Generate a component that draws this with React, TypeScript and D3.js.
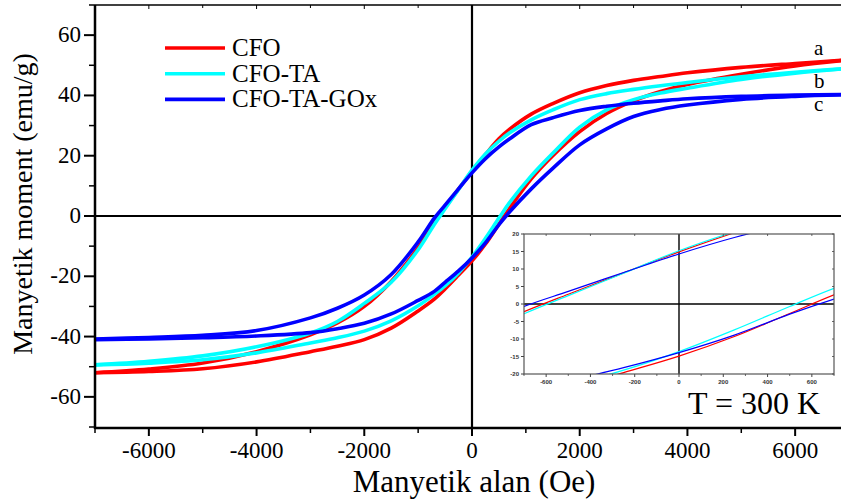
import React from "react";
import * as d3 from "d3";

// Applied field (Oe) sampled for every branch
const fields = [-7000, -6000, -5000, -4000, -3000, -2500, -2000, -1500, -1000, -700, -500, -250, 0, 250, 500, 700, 1100, 1500, 2000, 2500, 3000, 3500, 4000, 5000, 6000, 7000];

// Magnetization (emu/g): descending-field branch and ascending-field branch
const cfoDesc = [-52.0, -50.8, -48.8, -45.0, -39.4, -35.5, -30.0, -21.7, -10.5, -2.2, 2.8, 8.9, 14.9, 20.4, 25.6, 28.8, 33.8, 37.3, 40.9, 43.3, 45.0, 46.3, 47.5, 49.3, 50.6, 51.8];
const cfoAsc = [-52.0, -51.6, -50.7, -48.4, -45.0, -43.2, -41.0, -37.2, -31.5, -27.6, -24.2, -19.6, -14.9, -9.3, -2.7, 2.6, 12.3, 20.0, 28.0, 34.0, 38.2, 41.3, 43.6, 47.0, 49.8, 51.8];
const taDesc = [-49.4, -48.2, -46.4, -43.4, -38.8, -35.0, -29.0, -22.0, -11.2, -2.8, 2.4, 8.8, 15.2, 20.6, 24.8, 27.6, 31.9, 35.2, 38.6, 40.6, 42.0, 43.2, 44.3, 46.2, 47.7, 49.0];
const taAsc = [-49.4, -48.8, -47.7, -45.4, -42.1, -40.4, -38.2, -34.8, -29.8, -26.0, -23.2, -18.9, -13.6, -7.4, -0.7, 4.5, 13.3, 20.8, 29.5, 35.2, 38.6, 40.8, 42.4, 45.3, 47.4, 49.0];
const goxDesc = [-40.8, -40.3, -39.6, -38.0, -33.8, -30.6, -26.2, -19.4, -8.6, -0.7, 3.6, 9.0, 14.3, 19.0, 22.9, 25.6, 30.3, 32.6, 35.0, 36.4, 37.4, 38.2, 38.9, 39.7, 40.1, 40.3];
const goxAsc = [-41.0, -40.8, -40.4, -39.8, -38.7, -37.4, -35.6, -32.5, -28.0, -25.0, -22.0, -18.2, -13.9, -8.9, -2.9, 1.4, 9.0, 15.8, 23.6, 28.9, 33.0, 35.3, 36.8, 38.7, 39.7, 40.3];

const seriesNames = ["CFO", "CFO-TA", "CFO-TA-GOx"];
const seriesColors = ["#ff0000", "#00ffff", "#0000ff"];
const seriesTags = ["a", "b", "c"];
const seriesBranches = [
  [cfoDesc, cfoAsc],
  [taDesc, taAsc],
  [goxDesc, goxAsc],
];

const xTicks = [-6000, -4000, -2000, 0, 2000, 4000, 6000];
const xMinor = [-7000, -5000, -3000, -1000, 1000, 3000, 5000, 7000];
const yTicks = [-60, -40, -20, 0, 20, 40, 60];
const yMinor = [-70, -50, -30, -10, 10, 30, 50, 70];

const insetXTicks = [-600, -400, -200, 0, 200, 400, 600];
const insetXMinor = [-700, -500, -300, -100, 100, 300, 500, 700];
const insetYTicks = [-20, -15, -10, -5, 0, 5, 10, 15, 20];

const serif = '"Liberation Serif", "Times New Roman", Times, serif';
const sans = '"Liberation Sans", Arial, sans-serif';

export default function App() {
  const width = 841;
  const height = 499;

  const x = d3.scaleLinear().domain([-7000, 7000]).range([95, 849]);
  const y = d3.scaleLinear().domain([-70, 70]).range([427, 5]);

  const xi = d3.scaleLinear().domain([-700, 700]).range([524, 834]);
  const yi = d3.scaleLinear().domain([-20, 20]).range([374, 234]);

  const mainLine = d3
    .line<number>()
    .x((_, i) => x(fields[i]))
    .y((m) => y(m))
    .curve(d3.curveCatmullRom.alpha(0.5));

  const insetLine = d3
    .line<number>()
    .x((_, i) => xi(fields[i]))
    .y((m) => yi(m))
    .curve(d3.curveCatmullRom.alpha(0.5));

  const [x0, x1] = x.range();
  const [y0, y1] = y.range();
  const [ix0, ix1] = xi.range();
  const [iy0, iy1] = yi.range();

  const serifStyle = { fontFamily: serif };
  const sansStyle = { fontFamily: sans, fontWeight: 700 };

  return (
    <svg
      width={width}
      height={height}
      style={{ position: "absolute", left: 0, top: 0, background: "#fff" }}
    >
      <defs>
        <clipPath id="plotClip">
          <rect x={x0} y={y1} width={x1 - x0} height={y0 - y1} />
        </clipPath>
        <clipPath id="insetClip">
          <rect x={ix0} y={iy1} width={ix1 - ix0} height={iy0 - iy1} />
        </clipPath>
      </defs>
      <rect x={0} y={0} width={width} height={height} fill="#fff" />

      {/* zero lines */}
      <line x1={x0} x2={x1} y1={y(0)} y2={y(0)} stroke="#000" strokeWidth={2} />
      <line x1={x(0)} x2={x(0)} y1={y1} y2={y0} stroke="#000" strokeWidth={2.2} />

      {/* hysteresis loops */}
      <g clipPath="url(#plotClip)">
        {seriesBranches.map((branches, s) =>
          branches.map((vals, b) => (
            <path
              key={`${s}-${b}`}
              d={mainLine(vals) ?? ""}
              fill="none"
              stroke={seriesColors[s]}
              strokeWidth={3.6}
              strokeLinejoin="round"
            />
          ))
        )}
      </g>

      {/* frame */}
      <line x1={x0} x2={x1} y1={y1} y2={y1} stroke="#000" strokeWidth={1.5} />
      <line x1={x0} x2={x1} y1={y0 + 1} y2={y0 + 1} stroke="#000" strokeWidth={2.5} />
      <line x1={x0} x2={x0} y1={y1} y2={y0 + 2} stroke="#000" strokeWidth={2.5} />

      {/* x axis ticks */}
      {xTicks.map((t) => (
        <g key={`xt${t}`}>
          <line x1={x(t)} x2={x(t)} y1={y0 + 1} y2={y0 + 9} stroke="#000" strokeWidth={2} />
          <line x1={x(t)} x2={x(t)} y1={y1} y2={y1 + 4} stroke="#000" strokeWidth={1} />
          <text x={x(t)} y={y0 + 31} textAnchor="middle" style={serifStyle} fontSize={23} fill="#000">
            {t}
          </text>
        </g>
      ))}
      {xMinor.map((t) => (
        <g key={`xm${t}`}>
          <line x1={x(t)} x2={x(t)} y1={y0 + 1} y2={y0 + 6} stroke="#000" strokeWidth={1.5} />
          <line x1={x(t)} x2={x(t)} y1={y1} y2={y1 + 3} stroke="#000" strokeWidth={1} />
        </g>
      ))}

      {/* y axis ticks */}
      {yTicks.map((t) => (
        <g key={`yt${t}`}>
          <line x1={x0 - 11} x2={x0} y1={y(t)} y2={y(t)} stroke="#000" strokeWidth={2} />
          <text x={x0 - 14} y={y(t) + 7} textAnchor="end" style={serifStyle} fontSize={23} fill="#000">
            {t}
          </text>
        </g>
      ))}
      {yMinor.map((t) => (
        <line key={`ym${t}`} x1={x0 - 6} x2={x0} y1={y(t)} y2={y(t)} stroke="#000" strokeWidth={1.5} />
      ))}

      {/* axis titles */}
      <text x={474} y={492} textAnchor="middle" style={serifStyle} fontSize={31} fill="#000">
        Manyetik alan (Oe)
      </text>
      <text
        transform="translate(32,204) rotate(-90)"
        textAnchor="middle"
        style={serifStyle}
        fontSize={28}
        fill="#000"
      >
        Manyetik moment (emu/g)
      </text>

      {/* legend */}
      {seriesNames.map((name, i) => (
        <g key={name} transform={`translate(0,${48 + i * 25.7})`}>
          <line x1={165} x2={225} y1={0} y2={0} stroke={seriesColors[i]} strokeWidth={3.6} />
          <text x={232} y={8} style={serifStyle} fontSize={25} fill="#000">
            {name}
          </text>
        </g>
      ))}

      {/* curve tags */}
      {seriesTags.map((tag, i) => (
        <text key={tag} x={814} y={[55, 88, 111][i]} style={serifStyle} fontSize={21} fill="#000">
          {tag}
        </text>
      ))}

      {/* inset: zoom on the coercive region */}
      <rect x={ix0} y={iy1} width={ix1 - ix0} height={iy0 - iy1} fill="#fff" />
      <line x1={ix0} x2={ix1} y1={yi(0)} y2={yi(0)} stroke="#000" strokeWidth={1.4} />
      <line x1={xi(0)} x2={xi(0)} y1={iy1} y2={iy0} stroke="#000" strokeWidth={1.4} />
      <g clipPath="url(#insetClip)">
        {seriesBranches.map((branches, s) =>
          branches.map((vals, b) => (
            <path
              key={`i${s}-${b}`}
              d={insetLine(vals) ?? ""}
              fill="none"
              stroke={seriesColors[s]}
              strokeWidth={1.2}
            />
          ))
        )}
      </g>
      <rect
        x={ix0}
        y={iy1}
        width={ix1 - ix0}
        height={iy0 - iy1}
        fill="none"
        stroke="#555"
        strokeWidth={1.2}
      />
      {insetXTicks.map((t) => (
        <g key={`ixt${t}`}>
          <line x1={xi(t)} x2={xi(t)} y1={iy0} y2={iy0 + 3} stroke="#444" strokeWidth={1} />
          <line x1={xi(t)} x2={xi(t)} y1={iy1} y2={iy1 + 2} stroke="#444" strokeWidth={0.8} />
          <text x={xi(t)} y={iy0 + 10} textAnchor="middle" style={sansStyle} fontSize={6} fill="#333">
            {t}
          </text>
        </g>
      ))}
      {insetXMinor.map((t) => (
        <line key={`ixm${t}`} x1={xi(t)} x2={xi(t)} y1={iy0} y2={iy0 + 2} stroke="#444" strokeWidth={0.8} />
      ))}
      {insetYTicks.map((t) => (
        <g key={`iyt${t}`}>
          <line x1={ix0 - 3} x2={ix0} y1={yi(t)} y2={yi(t)} stroke="#444" strokeWidth={1} />
          <line x1={ix1 - 2} x2={ix1} y1={yi(t)} y2={yi(t)} stroke="#444" strokeWidth={0.8} />
          <text x={ix0 - 5} y={yi(t) + 2} textAnchor="end" style={sansStyle} fontSize={6} fill="#333">
            {t}
          </text>
        </g>
      ))}

      <text x={688} y={414} style={serifStyle} fontSize={32} fill="#000">
        T = 300 K
      </text>
    </svg>
  );
}
